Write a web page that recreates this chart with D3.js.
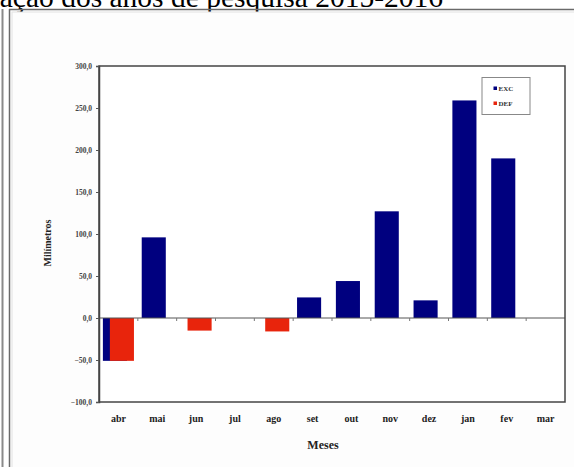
<!DOCTYPE html>
<html>
<head>
<meta charset="utf-8">
<script src="https://cdn.jsdelivr.net/npm/d3@7"></script>
<style>
  html, body { margin: 0; padding: 0; background: #ffffff; }
  svg { display: block; }
  svg text { font-family: "Liberation Serif", "DejaVu Serif", serif; }
</style>
</head>
<body>
<svg id="chart" width="574" height="467"></svg>
<script>
// Monthly water balance: excess (EXC) and deficit (DEF), in millimetres
const months = ["abr", "mai", "jun", "jul", "ago", "set", "out", "nov", "dez", "jan", "fev", "mar"];
const excValues = [-51, 96, 0, 0, 0, 24.5, 44, 127, 21, 259, 190, 0];
const defValues = [-51, 0, -15, 0, -16, 0, 0, 0, 0, 0, 0, 0];
const yTicks = [-100, -50, 0, 50, 100, 150, 200, 250, 300];
const seriesNames = ["EXC", "DEF"];
const seriesColors = ["#00007f", "#e8240c"];

const svg = d3.select("#chart");

// Caption line above the chart frame (runs past the top edge of the page)
svg.append("text")
  .attr("x", 443).attr("y", 7)
  .attr("text-anchor", "end")
  .style("font-size", "29.5px")
  .attr("fill", "#000")
  .text("ação dos anos de pesquisa 2015-2016");

// Outer chart frame
svg.append("line").attr("x1", 2.5).attr("x2", 2.5).attr("y1", 9).attr("y2", 467)
  .attr("stroke", "#8a8a8a").attr("stroke-width", 2);
svg.append("line").attr("x1", 9.5).attr("x2", 9.5).attr("y1", 9).attr("y2", 467)
  .attr("stroke", "#6a6a6a").attr("stroke-width", 1.5);
svg.append("line").attr("x1", 9).attr("x2", 574).attr("y1", 9.5).attr("y2", 9.5)
  .attr("stroke", "#6a6a6a").attr("stroke-width", 1.5);
svg.append("rect").attr("x", 12).attr("y", 12).attr("width", 570).attr("height", 460)
  .attr("fill", "#fdfdfd").attr("stroke", "#e2e2e2").attr("stroke-width", 1);

const plot = { left: 99, right: 565, top: 66, bottom: 402 };

const x = d3.scaleBand().domain(months).range([plot.left, plot.right]).padding(0);
const y = d3.scaleLinear().domain([-100, 300]).range([plot.bottom, plot.top]);

// Plot area
svg.append("rect")
  .attr("x", plot.left).attr("y", plot.top)
  .attr("width", plot.right - plot.left).attr("height", plot.bottom - plot.top)
  .attr("fill", "#ffffff");

// Bars: two overlapping series within each month
const bw = x.bandwidth();
const barW = bw * 0.62;
const offsets = [-bw * 0.4, -bw * 0.22];
[excValues, defValues].forEach((vals, si) => {
  svg.append("g").selectAll("rect")
    .data(months.map((m, i) => ({ m, v: vals[i] })).filter(d => d.v !== 0))
    .join("rect")
    .attr("x", d => x(d.m) + bw / 2 + offsets[si])
    .attr("width", barW)
    .attr("y", d => y(Math.max(0, d.v)))
    .attr("height", d => Math.abs(y(d.v) - y(0)))
    .attr("fill", seriesColors[si]);
});

// Zero line with category ticks
svg.append("line")
  .attr("x1", plot.left).attr("x2", plot.right)
  .attr("y1", y(0)).attr("y2", y(0))
  .attr("stroke", "#555").attr("stroke-width", 1);
svg.append("g").selectAll("line")
  .data(months.slice(1))
  .join("line")
  .attr("x1", d => x(d)).attr("x2", d => x(d))
  .attr("y1", y(0)).attr("y2", y(0) + 3)
  .attr("stroke", "#777").attr("stroke-width", 1);

// Plot frame
svg.append("rect")
  .attr("x", plot.left).attr("y", plot.top)
  .attr("width", plot.right - plot.left).attr("height", plot.bottom - plot.top)
  .attr("fill", "none").attr("stroke", "#444").attr("stroke-width", 1.5);

// Y axis
const yAxis = d3.axisLeft(y)
  .tickValues(yTicks)
  .tickSize(3)
  .tickPadding(4)
  .tickFormat(d => d3.format(".1f")(d).replace(".", ","));
const gy = svg.append("g").attr("transform", `translate(${plot.left},0)`).call(yAxis);
gy.attr("font-family", null);
gy.select(".domain").attr("stroke", "#444").attr("stroke-width", 1.5);
gy.selectAll(".tick line").attr("stroke", "#555");
gy.selectAll(".tick text")
  .style("font-size", "7.5px")
  .style("font-weight", "bold")
  .attr("fill", "#444");

// X category labels
svg.append("g").selectAll("text")
  .data(months)
  .join("text")
  .attr("x", d => x(d) + bw / 2)
  .attr("y", 422)
  .attr("text-anchor", "middle")
  .style("font-size", "10px")
  .style("font-weight", "bold")
  .attr("fill", "#222")
  .text(d => d);

// Axis titles
svg.append("text")
  .attr("x", (plot.left + plot.right) / 2 - 9).attr("y", 449)
  .attr("text-anchor", "middle")
  .style("font-size", "12px")
  .style("font-weight", "bold")
  .attr("fill", "#222")
  .text("Meses");
svg.append("text")
  .attr("transform", "translate(51,243) rotate(-90)")
  .attr("text-anchor", "middle")
  .style("font-size", "10px")
  .style("font-weight", "bold")
  .attr("fill", "#222")
  .text("Milímetros");

// Legend
const lg = svg.append("g").attr("transform", "translate(482,77.5)");
lg.append("rect").attr("width", 48).attr("height", 37)
  .attr("fill", "#fff").attr("stroke", "#888").attr("stroke-width", 1);
seriesNames.forEach((name, i) => {
  lg.append("rect")
    .attr("x", 11.5).attr("y", 9 + i * 15)
    .attr("width", 3.5).attr("height", 3.5)
    .attr("fill", seriesColors[i]);
  lg.append("text")
    .attr("x", 16.5).attr("y", 13 + i * 15)
    .style("font-size", "7px")
    .style("font-weight", "bold")
    .attr("fill", "#333")
    .text(name);
});
</script>
</body>
</html>
